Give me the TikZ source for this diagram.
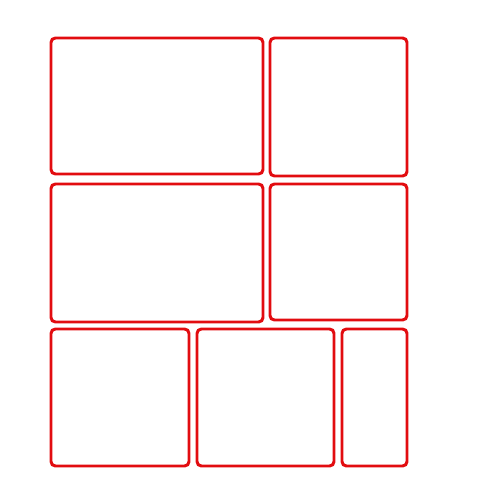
\documentclass[tikz,border=0pt]{standalone}
\usepackage{tikz}
\definecolor{panelred}{RGB}{226,12,16}

\begin{document}
\begin{tikzpicture}[
    x=0.02cm,y=-0.02cm,
    panel/.style={draw=panelred,line width=1.7pt,rounded corners=2.5pt}
]
\useasboundingbox (0,0) rectangle (500,500);
% top row
\draw[panel] (51,38) rectangle (263,174);
\draw[panel] (270,38) rectangle (407,176);
% middle row
\draw[panel] (51,184) rectangle (263,322);
\draw[panel] (270,184) rectangle (407,320);
% bottom row
\draw[panel] (51,329) rectangle (189,466);
\draw[panel] (197,329) rectangle (334,466);
\draw[panel] (342,329) rectangle (407,466);
\end{tikzpicture}
\end{document}
